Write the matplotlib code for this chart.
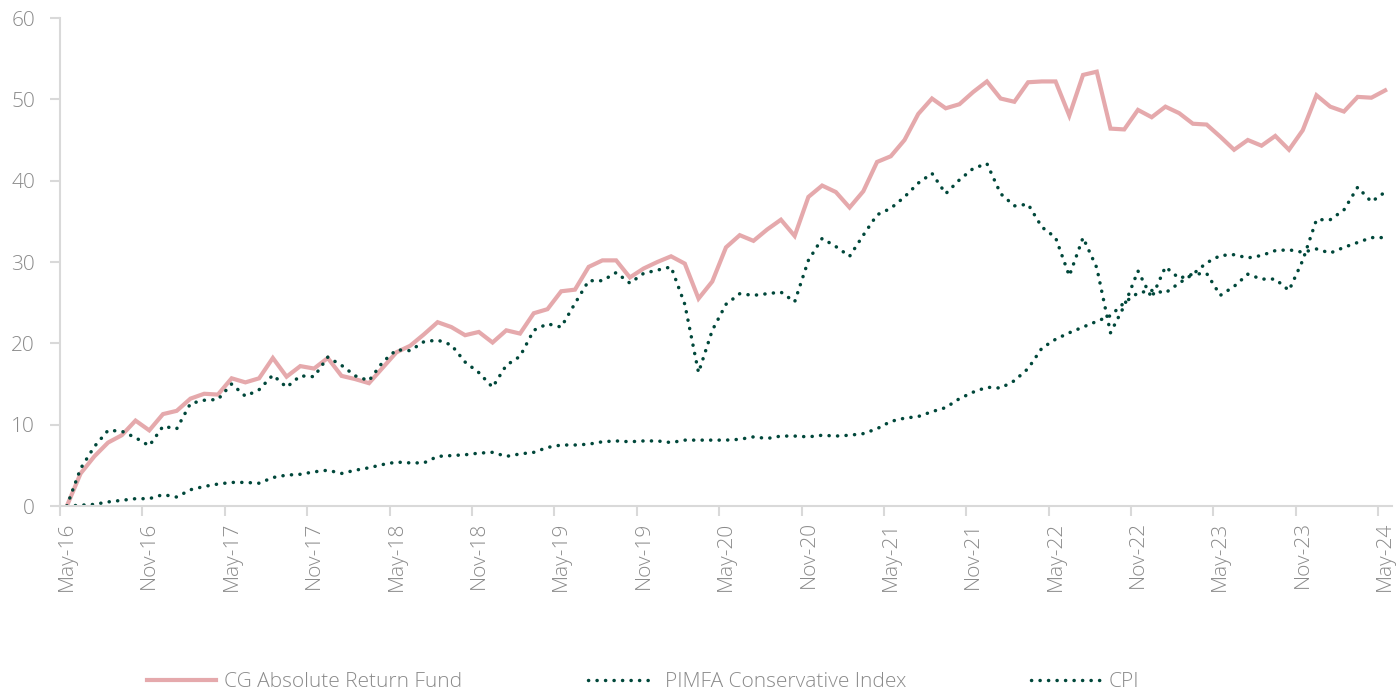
import numpy as np
import matplotlib
matplotlib.use("Agg")
import matplotlib.pyplot as plt

# Rendimiento acumulado mensual (%), may-16 a may-24
fund = [0, 4.0, 6.1, 7.8, 8.7, 10.5, 9.3, 11.3, 11.7, 13.2, 13.8, 13.7, 15.7, 15.2, 15.7, 18.2,
        15.9, 17.2, 16.9, 18.2, 16.0, 15.6, 15.1, 17.0, 18.9, 19.7, 21.1, 22.6, 22.0, 21.0, 21.4,
        20.1, 21.6, 21.2, 23.7, 24.2, 26.4, 26.6, 29.4, 30.2, 30.2, 28.1, 29.2, 30.0, 30.7, 29.8,
        25.5, 27.6, 31.8, 33.3, 32.6, 34.0, 35.2, 33.2, 38.0, 39.4, 38.6, 36.7, 38.7, 42.3, 43.0,
        45.0, 48.2, 50.1, 48.9, 49.4, 50.9, 52.2, 50.1, 49.7, 52.1, 52.2, 52.2, 48.0, 53.0, 53.4,
        46.4, 46.3, 48.7, 47.8, 49.1, 48.3, 47.0, 46.9, 45.4, 43.8, 45.0, 44.3, 45.5, 43.8, 46.2,
        50.5, 49.1, 48.5, 50.3, 50.2, 51.1]
pimfa = [0, 4.6, 7.3, 9.3, 9.2, 8.4, 7.4, 9.8, 9.5, 12.6, 13.0, 13.1, 15.0, 13.5, 14.3, 16.1,
         14.6, 16.0, 15.9, 18.3, 17.3, 16.0, 15.4, 17.7, 19.2, 19.1, 20.2, 20.4, 19.8, 17.7, 16.4,
         14.6, 17.3, 18.4, 21.6, 22.4, 22.0, 24.9, 27.7, 27.7, 28.7, 27.4, 28.6, 29.0, 29.4, 24.8,
         16.4, 21.6, 24.8, 26.1, 25.9, 26.1, 26.3, 25.1, 30.2, 32.9, 31.9, 30.7, 33.3, 35.8, 36.6,
         38.0, 39.7, 40.9, 38.4, 40.1, 41.5, 42.1, 38.4, 36.9, 37.1, 34.3, 33.0, 28.3, 33.0, 29.3,
         21.3, 24.6, 28.9, 25.6, 29.4, 28.0, 28.5, 28.6, 25.9, 27.0, 28.5, 27.9, 27.9, 26.5, 30.2,
         35.2, 35.2, 36.4, 39.2, 37.4, 38.6]
cpi = [0, 0.1, 0.2, 0.5, 0.7, 0.9, 0.9, 1.4, 1.1, 2.0, 2.4, 2.7, 2.9, 2.9, 2.8, 3.5,
       3.8, 3.9, 4.2, 4.4, 4.0, 4.4, 4.7, 5.1, 5.4, 5.3, 5.3, 6.1, 6.2, 6.3, 6.5,
       6.6, 6.1, 6.4, 6.6, 7.2, 7.5, 7.5, 7.6, 7.9, 8.0, 7.9, 8.0, 8.0, 7.8, 8.1,
       8.1, 8.1, 8.1, 8.2, 8.5, 8.3, 8.6, 8.6, 8.5, 8.7, 8.6, 8.7, 8.9, 9.5, 10.4,
       10.8, 11.0, 11.6, 12.1, 13.2, 14.0, 14.6, 14.5, 15.4, 16.9, 19.4, 20.5, 21.3, 22.0, 22.7,
       23.4, 25.0, 26.2, 26.5, 26.2, 27.4, 28.5, 29.9, 30.8, 30.9, 30.5, 30.8, 31.4, 31.5, 31.2,
       31.6, 31.1, 31.8, 32.4, 33.0, 33.0]
tick_labels = ["May-16", "Nov-16", "May-17", "Nov-17", "May-18", "Nov-18", "May-19", "Nov-19",
               "May-20", "Nov-20", "May-21", "Nov-21", "May-22", "Nov-22", "May-23", "Nov-23", "May-24"]
series_names = ["CG Absolute Return Fund", "PIMFA Conservative Index", "CPI"]

plt.rcParams["font.family"] = ["Open Sans", "DejaVu Sans"]
txt = "#8a8a8a"
grey = "#d9d9d9"
pink = "#e5a9ac"
green = "#00473a"

fig = plt.figure(figsize=(13.98, 6.94), dpi=100)
ax = fig.add_axes([60 / 1398, 1 - 506 / 694, 1332 / 1398, 488 / 694])

x = np.arange(len(fund))
dots = (0, (0.05, 2.4))
ax.plot(x, fund, color=pink, lw=3.0, solid_joinstyle="miter", label=series_names[0])
ax.plot(x, pimfa, color=green, lw=2.5, linestyle=dots, dash_capstyle="round", label=series_names[1])
ax.plot(x, cpi, color=green, lw=2.5, linestyle=dots, dash_capstyle="round", label=series_names[2])

ax.set_xlim(-0.5, len(fund) - 0.5)
ax.set_ylim(0, 60)
ax.set_yticks(range(0, 61, 10))
ax.set_xticks(np.arange(-0.5, len(fund), 6))
ax.set_xticklabels([])
ax.set_xticks(np.arange(0, len(fund), 6), minor=True)
ax.set_xticklabels(tick_labels, minor=True, rotation=90)

for s in ["top", "right"]:
    ax.spines[s].set_visible(False)
for s in ["left", "bottom"]:
    ax.spines[s].set_color(grey)
    ax.spines[s].set_linewidth(1.5)
ax.tick_params(axis="both", which="major", color=grey, width=1.5, length=7,
               labelsize=15, labelcolor=txt)
ax.tick_params(axis="y", pad=11)
ax.tick_params(axis="x", which="minor", length=0, pad=11, labelsize=15, labelcolor=txt)
for lab in ax.get_yticklabels() + ax.get_xticklabels(minor=True):
    lab.set_fontweight("light")

leg = fig.legend(loc="center", bbox_to_anchor=(643 / 1398, 1 - 682 / 694), ncol=3,
                 frameon=False, fontsize=15, handlelength=3.3, columnspacing=6.0,
                 handletextpad=0.4)
for t in leg.get_texts():
    t.set_color(txt)
    t.set_fontweight("light")

fig.savefig("out.png", dpi=100)
